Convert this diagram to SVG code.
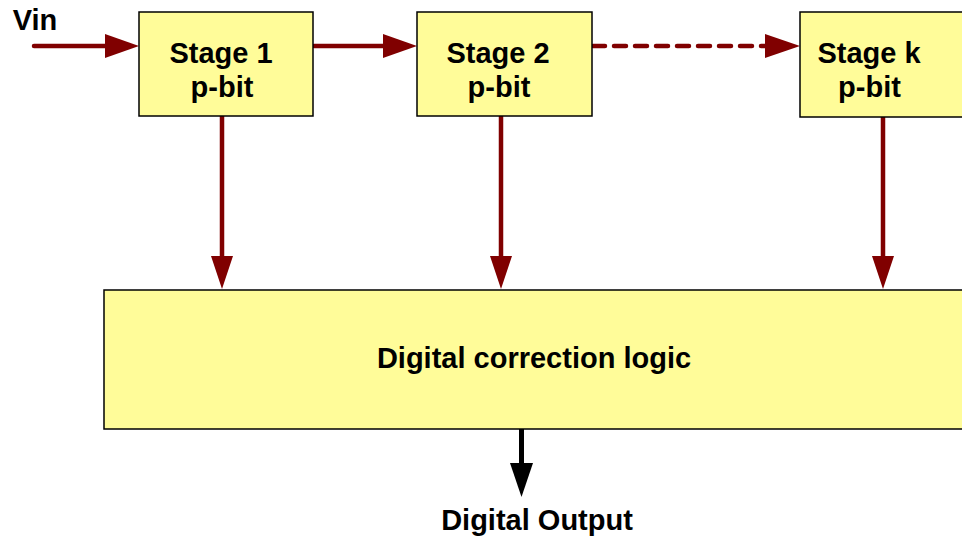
<svg xmlns="http://www.w3.org/2000/svg" width="962" height="536" viewBox="0 0 962 536">
<style>
.box{fill:#FFFC99;stroke:#000;stroke-width:1.5}
.t{font-family:"Liberation Sans",Arial,sans-serif;font-weight:bold;font-size:29px;fill:#000;text-anchor:middle}
.c{stroke:#800000;stroke-width:4.5;fill:none;stroke-linecap:round}
.ah{fill:#800000}
</style>
<rect width="962" height="536" fill="#fff"/>
<g id="connectors">
<line class="c" x1="34" y1="46" x2="108" y2="46"/>
<polygon class="ah" points="105,34 139,46 105,58"/>
<line class="c" x1="314" y1="46" x2="386" y2="46"/>
<polygon class="ah" points="383,34 417,46 383,58"/>
<line class="c" x1="593" y1="46" x2="766" y2="46" stroke-dasharray="12 9" stroke-linecap="butt"/>
<polygon class="ah" points="765,34 800,46 765,58"/>
<line class="c" x1="222" y1="116" x2="222" y2="258" stroke-linecap="butt"/>
<polygon class="ah" points="211,256 233,256 222,289"/>
<line class="c" x1="501" y1="116" x2="501" y2="258" stroke-linecap="butt"/>
<polygon class="ah" points="490,256 512,256 501,289"/>
<line class="c" x1="883" y1="117" x2="883" y2="258" stroke-linecap="butt"/>
<polygon class="ah" points="872,256 894,256 883,289"/>
<line x1="521.5" y1="429" x2="521.5" y2="466" stroke="#000" stroke-width="5"/>
<polygon points="510,463 533,463 521.5,497" fill="#000"/>
</g>
<g id="vin"><text class="t" x="35" y="30">Vin</text></g>
<g id="stage1">
<rect class="box" x="139" y="12" width="174" height="104"/>
<text class="t" x="221" y="63">Stage 1</text>
<text class="t" x="222" y="97">p-bit</text>
</g>
<g id="stage2">
<rect class="box" x="417" y="12" width="175" height="104"/>
<text class="t" x="498" y="63">Stage 2</text>
<text class="t" x="499" y="97">p-bit</text>
</g>
<g id="stagek">
<rect class="box" x="800" y="12" width="170" height="105"/>
<text class="t" x="869" y="63">Stage k</text>
<text class="t" x="869.5" y="97">p-bit</text>
</g>
<g id="correction">
<rect class="box" x="104" y="290" width="866" height="139"/>
<text class="t" x="534" y="368">Digital correction logic</text>
</g>
<g id="output"><text class="t" x="537" y="530">Digital Output</text></g>
</svg>
